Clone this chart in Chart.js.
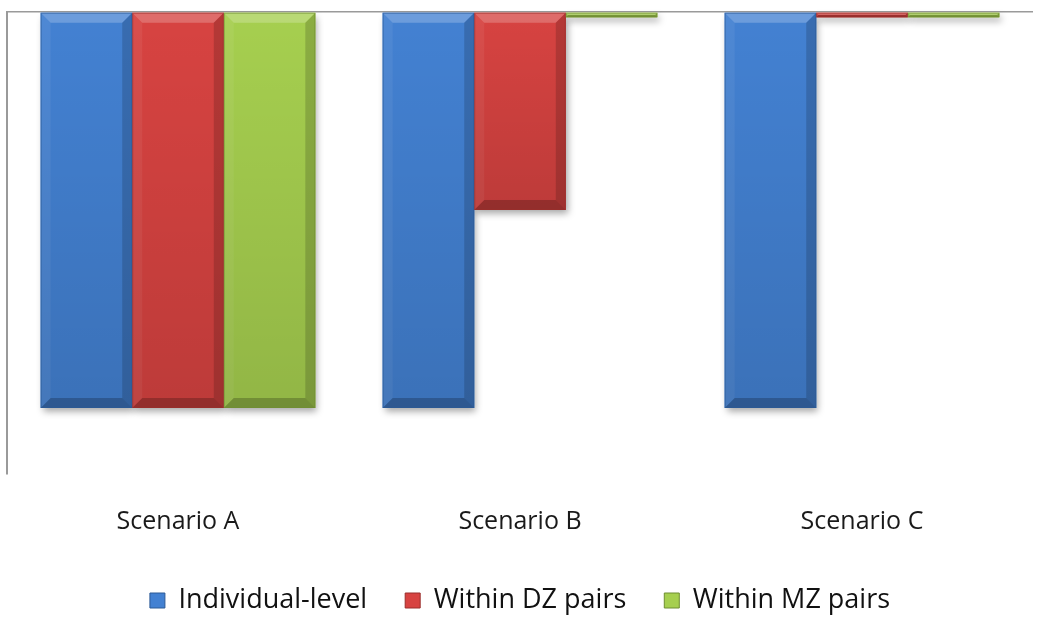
<!DOCTYPE html>
<html>
<head>
<meta charset="utf-8">
<script src="https://cdn.jsdelivr.net/npm/chart.js@4/dist/chart.umd.min.js"></script>
<style>
  html, body { margin: 0; padding: 0; background: #ffffff; }
  #wrap { width: 1050px; height: 624px; position: relative; }
</style>
</head>
<body>
<div id="wrap"><canvas id="c" width="1050" height="624"></canvas></div>
<script>
const categories = ["Scenario A", "Scenario B", "Scenario C"];
const seriesNames = ["Individual-level", "Within DZ pairs", "Within MZ pairs"];
const individualLevel = [0.30, 0.30, 0.30];
const withinDZ = [0.30, 0.15, 0.004];
const withinMZ = [0.30, 0.004, 0.004];

const fills = ["#4381D2", "#D74341", "#A6CF4F"];
const edges = ["#2C5A96", "#9A2E2C", "#6F8E32"];

const bevelPlugin = {
  id: 'bevel',
  beforeDatasetsDraw(chart) {
    const ctx = chart.ctx;
    ctx.save();
    ctx.shadowColor = 'rgba(0,0,0,0.35)';
    ctx.shadowBlur = 7;
    ctx.shadowOffsetX = 2;
    ctx.shadowOffsetY = 4;
    chart.data.datasets.forEach((ds, i) => {
      chart.getDatasetMeta(i).data.forEach(el => {
        const top = Math.min(el.y, el.base), bot = Math.max(el.y, el.base);
        const l = el.x - el.width / 2;
        ctx.fillStyle = fills[i];
        ctx.fillRect(l, top, el.width, bot - top);
      });
    });
    ctx.restore();
  },
  afterDatasetsDraw(chart) {
    const ctx = chart.ctx;
    ctx.save();
    chart.data.datasets.forEach((ds, i) => {
      chart.getDatasetMeta(i).data.forEach(el => {
        const top = Math.min(el.y, el.base), bot = Math.max(el.y, el.base);
        const l = el.x - el.width / 2, r = el.x + el.width / 2;
        const h = bot - top;
        const b = Math.min(10, h / 2);
        if (h < 3) {
          ctx.strokeStyle = edges[i];
          ctx.lineWidth = 1;
          ctx.strokeRect(l + 0.5, top + 0.5, el.width - 1, h);
          ctx.fillStyle = 'rgba(255,255,255,0.25)';
          ctx.fillRect(l, top, el.width, 1);
          return;
        }
        ctx.fillStyle = 'rgba(255,255,255,0.22)';
        ctx.beginPath();
        ctx.moveTo(l, top); ctx.lineTo(r, top); ctx.lineTo(r - b, top + b); ctx.lineTo(l + b, top + b);
        ctx.closePath(); ctx.fill();
        ctx.fillStyle = 'rgba(255,255,255,0.06)';
        ctx.beginPath();
        ctx.moveTo(l, top); ctx.lineTo(l + b, top + b); ctx.lineTo(l + b, bot - b); ctx.lineTo(l, bot);
        ctx.closePath(); ctx.fill();
        ctx.fillStyle = 'rgba(0,0,0,0.16)';
        ctx.beginPath();
        ctx.moveTo(r, top); ctx.lineTo(r - b, top + b); ctx.lineTo(r - b, bot - b); ctx.lineTo(r, bot);
        ctx.closePath(); ctx.fill();
        ctx.fillStyle = 'rgba(0,0,0,0.22)';
        ctx.beginPath();
        ctx.moveTo(l, bot); ctx.lineTo(r, bot); ctx.lineTo(r - b, bot - b); ctx.lineTo(l + b, bot - b);
        ctx.closePath(); ctx.fill();
        const g = ctx.createLinearGradient(0, top, 0, bot);
        g.addColorStop(0, 'rgba(0,0,0,0)');
        g.addColorStop(1, 'rgba(0,0,0,0.12)');
        ctx.fillStyle = g;
        ctx.fillRect(l, top, el.width, h);
        ctx.strokeStyle = edges[i];
        ctx.globalAlpha = 0.6;
        ctx.lineWidth = 1;
        ctx.strokeRect(l + 0.5, top + 0.5, el.width - 1, h - 1);
        ctx.globalAlpha = 1;
      });
    });
    ctx.restore();
  }
};

new Chart(document.getElementById('c'), {
  type: 'bar',
  data: {
    labels: categories,
    datasets: [
      { label: seriesNames[0], data: individualLevel, backgroundColor: fills[0], borderColor: edges[0], borderWidth: 0 },
      { label: seriesNames[1], data: withinDZ, backgroundColor: fills[1], borderColor: edges[1], borderWidth: 0 },
      { label: seriesNames[2], data: withinMZ, backgroundColor: fills[2], borderColor: edges[2], borderWidth: 0 }
    ]
  },
  options: {
    responsive: false,
    animation: false,
    devicePixelRatio: 1,
    layout: { padding: { left: 7, right: 17, top: 12, bottom: 0 } },
    datasets: { bar: { categoryPercentage: 0.803, barPercentage: 1.0 } },
    plugins: {
      tooltip: { enabled: false },
      legend: {
        position: 'bottom',
        labels: {
          font: { family: 'Open Sans', size: 27 },
          color: '#111111',
          boxWidth: 15,
          boxHeight: 15,
          padding: 38,
          generateLabels(chart) {
            return chart.data.datasets.map((ds, i) => ({
              text: ds.label,
              fillStyle: fills[i],
              strokeStyle: edges[i],
              lineWidth: 1,
              datasetIndex: i,
              fontColor: '#111111'
            }));
          }
        }
      }
    },
    scales: {
      x: {
        grid: { display: false, drawTicks: false },
        border: { display: false },
        ticks: { font: { family: 'Open Sans', size: 25 }, color: '#1a1a1a', padding: 33 },
        afterFit(scale) { scale.height = 75; }
      },
      y: {
        reverse: true,
        min: 0,
        max: 0.35,
        grid: {
          drawTicks: false,
          color: (c) => c.tick && c.tick.value === 0 ? '#9a9a9a' : 'rgba(0,0,0,0)',
          lineWidth: 1.5
        },
        border: { display: true, color: '#9a9a9a', width: 2 },
        ticks: { display: false }
      }
    }
  },
  plugins: [bevelPlugin]
});
</script>
</body>
</html>
